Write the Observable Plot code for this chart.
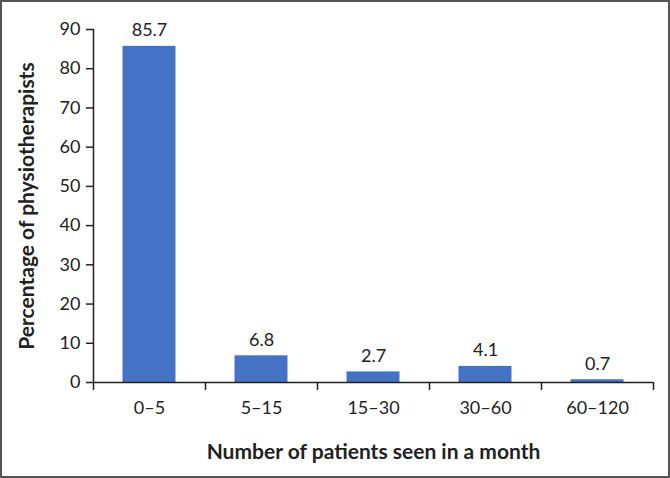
<!DOCTYPE html>
<html>
<head>
<meta charset="utf-8">
<script src="https://cdn.jsdelivr.net/npm/d3@7"></script>
<script src="https://cdn.jsdelivr.net/npm/@observablehq/plot@0.6"></script>
<style>
  html, body { margin: 0; padding: 0; background: #fff; }
  #wrap { position: relative; width: 670px; height: 478px; }
  #border { position: absolute; left: 0; top: 0; width: 670px; height: 478px; box-sizing: border-box; border: 2px solid #555; pointer-events: none; }
  svg { display: block; }
</style>
</head>
<body>
<div id="wrap"><div id="border"></div></div>
<script>
const categories = ["0–5", "5–15", "15–30", "30–60", "60–120"];
const values = [85.7, 6.8, 2.7, 4.1, 0.7];
const yTicks = [0, 10, 20, 30, 40, 50, 60, 70, 80, 90];

const data = categories.map((c, i) => ({category: c, value: values[i]}));

const W = 670, H = 478;
const mL = 93, mR = 17, mT = 29, mB = 96;
const step = (W - mL - mR) / categories.length;
const barW = 53;
const inset = (step - barW) / 2;
const font = "Lato, 'Open Sans', sans-serif";
const ink = "#222";

const chart = Plot.plot({
  width: W,
  height: H,
  marginLeft: mL,
  marginRight: mR,
  marginTop: mT,
  marginBottom: mB,
  style: {fontFamily: font, fontSize: "18px", color: ink, background: "transparent"},
  x: {domain: categories, padding: 0},
  y: {domain: [0, 90]},
  marks: [
    Plot.barY(data, {x: "category", y: "value", fill: "#4472C4", insetLeft: inset, insetRight: inset}),
    Plot.text(data, {x: "category", y: "value", text: d => d.value.toFixed(1), lineAnchor: "bottom", dy: -10, fill: ink, fontSize: 18}),
    Plot.ruleY([0], {stroke: ink, strokeWidth: 1.5}),
    Plot.ruleX(categories, {x: d => d, y1: 0, y2: 0, dx: -step / 2, stroke: ink, strokeWidth: 1.5, insetBottom: -8}),
    Plot.ruleX([categories[categories.length - 1]], {x: d => d, y1: 0, y2: 0, dx: step / 2, stroke: ink, strokeWidth: 1.5, insetBottom: -8}),
    Plot.frame({anchor: "left", stroke: ink, strokeWidth: 1.5}),
    Plot.axisY({ticks: yTicks, tickSize: 7, tickPadding: 6, stroke: ink, strokeWidth: 1.5, fontSize: 18,
      label: "Percentage of physiotherapists", labelAnchor: "center", labelArrow: "none", labelOffset: 74}),
    Plot.axisX({tickSize: 0, tickPadding: 19, fontSize: 18,
      label: "Number of patients seen in a month", labelAnchor: "center", labelArrow: "none", labelOffset: 76})
  ]
});
chart.querySelectorAll('[aria-label="y-axis label"] text, [aria-label="x-axis label"] text').forEach(t => {
  t.setAttribute("font-weight", "bold");
  t.setAttribute("font-size", "21");
  t.setAttribute("fill", ink);
});
document.getElementById("wrap").prepend(chart);
</script>
</body>
</html>
